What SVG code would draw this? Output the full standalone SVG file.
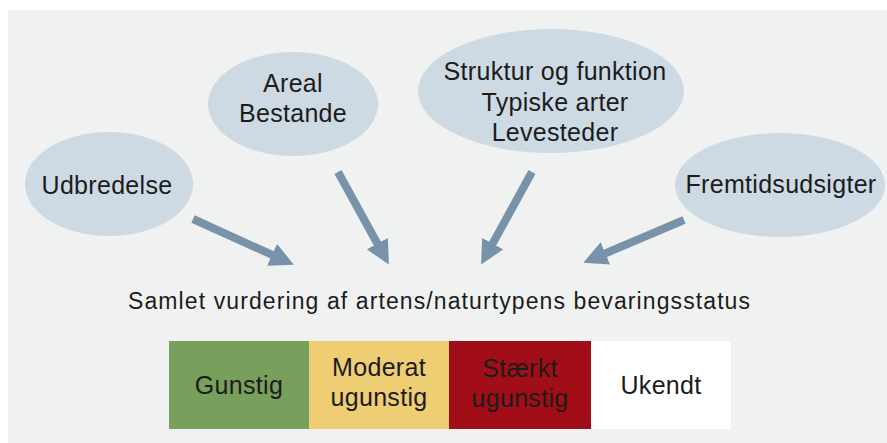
<svg xmlns="http://www.w3.org/2000/svg" width="887" height="443" viewBox="0 0 887 443">
<style>
.bubble{fill:#cddae4}
.t{font-family:"Liberation Sans",Arial,sans-serif;font-size:25px;letter-spacing:0.3px;fill:#1c1c1c;text-anchor:middle}
.title{font-size:23px;letter-spacing:0}
.arrow{stroke:#7893a9;stroke-width:8;fill:none;marker-end:url(#head)}
</style>
<defs>
<marker id="head" markerUnits="userSpaceOnUse" markerWidth="24" markerHeight="24" viewBox="0 0 22 22" refX="2" refY="11" orient="auto">
<path d="M0,0 L22,11 L0,22 z" fill="#7893a9"/>
</marker>
</defs>
<rect x="0" y="0" width="887" height="443" fill="#ffffff"/>
<rect x="8" y="10" width="879" height="433" fill="#f0f1f1"/>
<g id="udbredelse">
<ellipse class="bubble" cx="109" cy="184" rx="84" ry="52"/>
<text class="t" x="107" y="194">Udbredelse</text>
</g>
<g id="areal">
<ellipse class="bubble" cx="293" cy="104" rx="85" ry="52"/>
<text class="t" x="293" y="92">Areal</text>
<text class="t" x="293" y="122">Bestande</text>
</g>
<g id="struktur">
<ellipse class="bubble" cx="551" cy="91" rx="133" ry="62"/>
<text class="t" x="555" y="80">Struktur og funktion</text>
<text class="t" x="555" y="111">Typiske arter</text>
<text class="t" x="555" y="141">Levesteder</text>
</g>
<g id="fremtid">
<ellipse class="bubble" cx="780" cy="185" rx="105" ry="52"/>
<text class="t" x="781" y="193">Fremtidsudsigter</text>
</g>
<g id="connectors">
<line class="arrow" x1="193" y1="219" x2="274" y2="255.7"/>
<line class="arrow" x1="338" y1="172" x2="378.4" y2="245.5"/>
<line class="arrow" x1="532" y1="172" x2="491.6" y2="245.5"/>
<line class="arrow" x1="684" y1="220" x2="603.4" y2="254.2"/>
</g>
<g id="title">
<text class="t title" x="439" y="309" textLength="622" lengthAdjust="spacing">Samlet vurdering af artens/naturtypens bevaringsstatus</text>
</g>
<g id="gunstig">
<rect x="169" y="341" width="140" height="88" fill="#789f5b"/>
<text class="t" x="239" y="394">Gunstig</text>
</g>
<g id="moderat">
<rect x="309" y="341" width="140" height="88" fill="#efcd73"/>
<text class="t" x="379" y="376">Moderat</text>
<text class="t" x="379" y="406">ugunstig</text>
</g>
<g id="staerkt">
<rect x="449" y="341" width="142" height="88" fill="#a20e17"/>
<text class="t" x="520" y="377">Stærkt</text>
<text class="t" x="520" y="407">ugunstig</text>
</g>
<g id="ukendt">
<rect x="591" y="341" width="140" height="88" fill="#ffffff"/>
<text class="t" x="661" y="394">Ukendt</text>
</g>
</svg>
